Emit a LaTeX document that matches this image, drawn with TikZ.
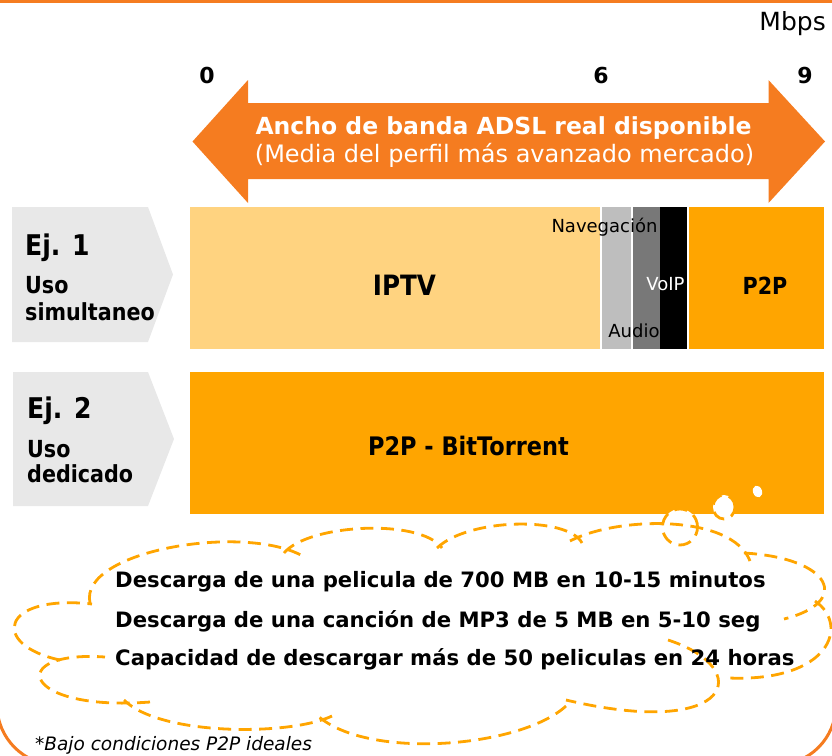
\documentclass[tikz,border=0pt]{standalone}
\usepackage{fontspec}
\setmainfont{DejaVu Sans}
\newfontfamily\narrowfont{DejaVu Sans}[FakeStretch=0.88]

\definecolor{adslorange}{RGB}{245,124,32}
\definecolor{barorange}{RGB}{255,165,0}
\definecolor{iptvcol}{RGB}{255,211,128}
\definecolor{navgray}{RGB}{190,190,190}
\definecolor{audiogray}{RGB}{120,120,120}
\definecolor{taggray}{RGB}{232,232,232}

\newcommand{\fsz}[1]{\fontsize{#1}{#1}\selectfont}

\begin{document}
\begin{tikzpicture}[
	x=1pt, y=-1pt,
	lbl/.style={inner sep=0pt, anchor=base},
	bar/.style={inner sep=0pt, anchor=north west, minimum height=142pt},
	tag/.style={fill=taggray},
	frameline/.style={adslorange, line width=3pt},
	cloudline/.style={draw=barorange, line width=2.8pt, dash pattern=on 13pt off 7.5pt},
	bubble/.style={cloudline, fill=white}
	]
	
	\path[use as bounding box] (0,0) rectangle (832,755);
	\clip (0,0) rectangle (832,755);
	
	% Frame
	\draw[frameline] (0,1.5) -- (832,1.5);
	\draw[frameline, rounded corners=60pt] (-3,-20) -- (-3,765) -- (836,765) -- (836,-20);
	
	% Scale
	\node[lbl, anchor=base east, font=\fsz{25}] (unit) at (826,30) {Mbps};
	\node[lbl, font=\bfseries\fsz{22}] (s0) at (207,83) {0};
	\node[lbl, font=\bfseries\fsz{22}] (s6) at (601,83) {6};
	\node[lbl, font=\bfseries\fsz{22}] (s9) at (805,83) {9};
	
	% Bandwidth arrow
	\fill[adslorange] (192.5,141.5) -- (248,80) -- (248,103) -- (768.5,103) -- (768.5,80)
		-- (825,141.5) -- (768.5,203) -- (768.5,179) -- (248,179) -- (248,203) -- cycle;
	\node[lbl, text=white, font=\bfseries\fsz{23.5}] (bandwidth) at (503.5,134) {Ancho de banda ADSL real disponible};
	\node[lbl, text=white, font=\fsz{24}] (average) at (504.5,162) {(Media del perfil más avanzado mercado)};
	
	% Example tags
	\fill[tag] (12,207) -- (148,207) -- (173,274.5) -- (148,342) -- (12,342) -- cycle;
	\fill[tag] (13,372) -- (148,372) -- (174,439) -- (148,506) -- (13,506) -- cycle;
	\node[lbl, anchor=base west, font=\narrowfont\bfseries\fsz{28.5}] (ej1) at (25,255) {Ej. 1};
	\node[lbl, anchor=base west, font=\narrowfont\bfseries\fsz{23.5}] (uso1) at (25,293) {Uso};
	\node[lbl, anchor=base west, font=\narrowfont\bfseries\fsz{23.5}] (simul) at (25,320) {simultaneo};
	\node[lbl, anchor=base west, font=\narrowfont\bfseries\fsz{28.5}] (ej2) at (27,418) {Ej. 2};
	\node[lbl, anchor=base west, font=\narrowfont\bfseries\fsz{23.5}] (uso2) at (27,457) {Uso};
	\node[lbl, anchor=base west, font=\narrowfont\bfseries\fsz{23.5}] (dedic) at (27,482) {dedicado};
	
	% Ej. 1 bar
	\node[bar, fill=iptvcol, minimum width=410pt] (iptv) at (190,207) {};
	\node[bar, fill=navgray, minimum width=29.5pt] (nav) at (601.5,207) {};
	\node[bar, fill=audiogray, minimum width=27pt] (audio) at (633,207) {};
	\node[bar, fill=black, minimum width=27pt] (voip) at (660,207) {};
	\node[bar, fill=barorange, minimum width=135pt] (p2p) at (689,207) {};
	\node[lbl, font=\narrowfont\bfseries\fsz{28}] (iptvtxt) at (404.5,295) {IPTV};
	\node[lbl, font=\fsz{18}] (navtxt) at (604.5,232) {Navegación};
	\node[lbl, font=\fsz{18}] (audiotxt) at (634,337) {Audio};
	\node[lbl, text=white, font=\fsz{18}] (voiptxt) at (665.5,290) {VoIP};
	\node[lbl, font=\narrowfont\bfseries\fsz{23.5}] (p2ptxt) at (765,294) {P2P};
	
	% Ej. 2 bar
	\node[bar, fill=barorange, minimum width=634pt] (bt) at (190,372) {};
	\node[lbl, font=\narrowfont\bfseries\fsz{25.5}] (bttxt) at (468.5,455) {P2P - BitTorrent};
	
	% Thought bubbles
	\draw[bubble] (680,527) ellipse[x radius=17.5pt, y radius=18pt];
	\draw[bubble] (724,507) ellipse[x radius=11pt, y radius=12pt];
	\fill[white, rotate around={20:(757.5,491.5)}] (757.5,491.5) ellipse[x radius=4.5pt, y radius=6pt];
	
	% Cloud lobes
	\foreach \ax/\ay/\bx/\by/\cx/\cy/\dx/\dy in {
		90/603/78/550/250/522/306/558,
		284/553/308/524/420/518/442/548,
		437/548/468/518/568/516/582/543,
		570/541/618/516/732/514/750/561,
		744/553/832/558/852/602/784/619,
		815/601/850/625/830/682/729/678,
		668/640/755/668/735/740/566/700,
		566/706/520/748/368/760/318/716,
		332/716/290/736/160/736/124/700,
		150/702/20/712/5/650/105/657,
		60/660/-10/645/0/594/92/604}
		\draw[cloudline] (\ax,\ay) .. controls (\bx,\by) and (\cx,\cy) .. (\dx,\dy);
	
	% Cloud text
	\node[lbl, anchor=base west, font=\bfseries\fsz{21.2}] (dl1) at (115,587) {Descarga de una pelicula de 700 MB en 10-15 minutos};
	\node[lbl, anchor=base west, font=\bfseries\fsz{21.2}] (dl2) at (115,627) {Descarga de una canción de MP3 de 5 MB en 5-10 seg};
	\node[lbl, anchor=base west, font=\bfseries\fsz{21.2}] (dl3) at (115,665) {Capacidad de descargar más de 50 peliculas en 24 horas};
	
	% Footnote
	\node[lbl, anchor=base west, font=\itshape\fsz{18.5}] (note) at (35,750) {*Bajo condiciones P2P ideales};
	
\end{tikzpicture}
\end{document}
